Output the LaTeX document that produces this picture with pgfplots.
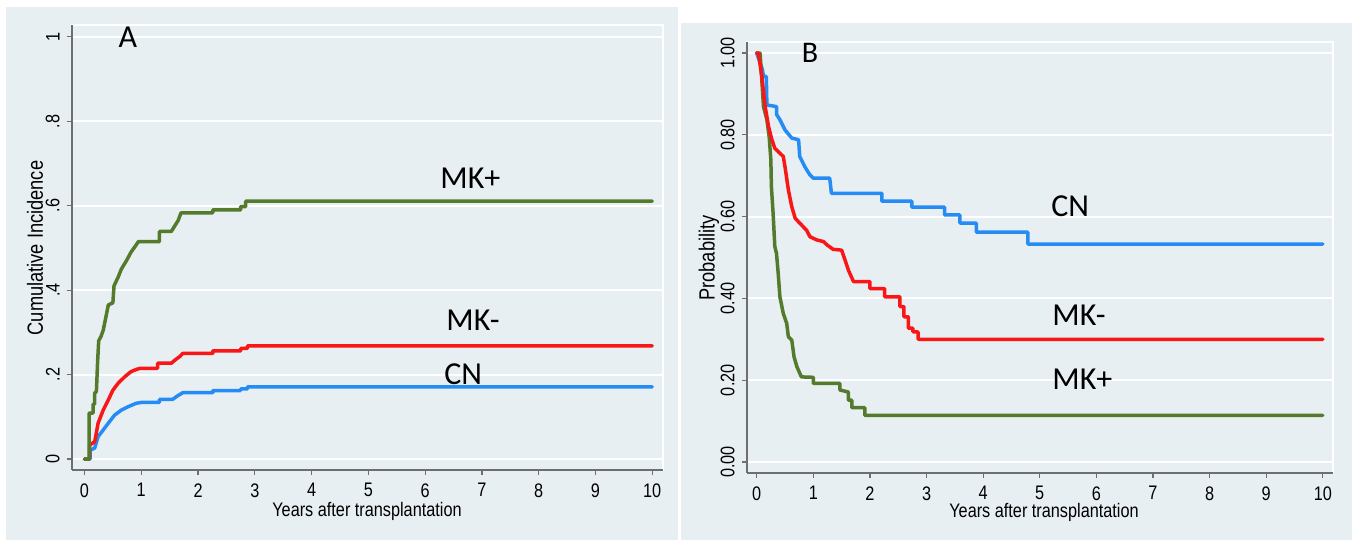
\documentclass[border=0pt]{standalone}
\usepackage{fontspec}
\setmainfont{Liberation Sans}
\newfontfamily\stata[FakeStretch=0.83]{Liberation Sans}
\newfontfamily\calib{Carlito}
\usepackage{pgfplots}
\pgfplotsset{compat=1.18}

\definecolor{bg}{RGB}{232,239,242}
\definecolor{mkplus}{RGB}{84,122,44}
\definecolor{mkminus}{RGB}{248,22,22}
\definecolor{cn}{RGB}{38,140,245}
\definecolor{axgray}{RGB}{110,110,110}

\pgfplotsset{
  km/.style={
    scale only axis,
    enlargelimits=false,
    axis x line*=bottom, axis y line*=left,
    axis line style={axgray, line width=0.6pt},
    axis background/.style={fill=bg, draw=white, line width=1pt},
    tick align=outside, major tick length=2.5pt,
    tick style={axgray, line width=0.6pt},
    xtick={0,...,10},
    ymajorgrids, grid style={white, line width=1pt},
    ticklabel style={font=\stata\fontsize{9.8}{11}\selectfont},
    /pgf/number format/assume math mode=true,
    yticklabel style={rotate=90, anchor=south, inner sep=0pt, yshift=3.5pt},
    xticklabel style={anchor=north, inner sep=0pt, yshift=-4pt},
    every axis plot/.append style={line width=1.75pt, line join=round, line cap=round},
  }
}

\begin{document}
\begin{tikzpicture}[x=0.5pt, y=-0.5pt]
\path[use as bounding box, fill=white] (0,0) rectangle (1352,540);
\fill[bg] (6,7) rectangle (678,540);
\fill[bg] (681,23) rectangle (1352,540);

% panel A: cumulative incidence
\begin{axis}[km, at={(36pt,-235pt)}, anchor=south west,
  width=295.5pt, height=222.5pt,
  xmin=-0.22, xmax=10.19, ymin=-0.026, ymax=1.028,
  ytick={0,0.2,0.4,0.6,0.8,1}, yticklabels={0,.2,.4,.6,.8,1}]
\addplot[cn] coordinates {
(0,0) (0.1,0) (0.1,0.021) (0.18,0.026) (0.24,0.053) (0.33,0.069) (0.42,0.085)
(0.53,0.104) (0.65,0.116) (0.77,0.124) (0.91,0.132) (1.0,0.134) (1.32,0.134)
(1.32,0.141) (1.55,0.141) (1.62,0.148) (1.73,0.157) (2.26,0.157) (2.26,0.162)
(2.75,0.162) (2.75,0.166) (2.87,0.166) (2.87,0.171) (10,0.171)};
\addplot[mkminus] coordinates {
(0,0) (0.09,0) (0.09,0.033) (0.18,0.041) (0.24,0.085) (0.33,0.116) (0.42,0.14)
(0.5,0.163) (0.59,0.179) (0.71,0.195) (0.82,0.207) (0.91,0.212) (0.98,0.215)
(1.29,0.215) (1.29,0.227) (1.53,0.227) (1.6,0.235) (1.68,0.243) (1.73,0.25)
(2.26,0.25) (2.26,0.256) (2.75,0.256) (2.75,0.262) (2.87,0.262) (2.87,0.268) (10,0.268)};
\addplot[mkplus] coordinates {
(0,0) (0.08,0) (0.08,0.109) (0.15,0.109) (0.15,0.13) (0.18,0.13) (0.18,0.156)
(0.21,0.16) (0.23,0.227) (0.25,0.28) (0.29,0.29) (0.33,0.305) (0.39,0.345)
(0.42,0.365) (0.5,0.37) (0.52,0.41) (0.59,0.43) (0.65,0.45) (0.74,0.47) (0.82,0.49)
(0.91,0.507) (0.95,0.515) (1.32,0.515) (1.32,0.539) (1.53,0.539) (1.58,0.55)
(1.65,0.565) (1.70,0.583) (2.26,0.583) (2.26,0.59) (2.75,0.59) (2.75,0.598)
(2.84,0.598) (2.84,0.611) (10,0.611)};
\end{axis}

% panel B: probability
\begin{axis}[km, at={(373.5pt,-236.5pt)}, anchor=south west,
  width=293pt, height=215.5pt,
  xmin=-0.171, xmax=10.18, ymin=-0.027, ymax=1.027,
  ytick={0,0.2,0.4,0.6,0.8,1}, yticklabels={0.00,0.20,0.40,0.60,0.80,1.00}]
\addplot[cn] coordinates {
(0,1) (0.1,0.96) (0.12,0.943) (0.17,0.943) (0.18,0.873) (0.35,0.869) (0.35,0.85)
(0.41,0.837) (0.5,0.812) (0.62,0.792) (0.74,0.788) (0.76,0.747) (0.85,0.722)
(0.94,0.702) (1.0,0.694) (1.29,0.694) (1.32,0.657) (2.21,0.657) (2.21,0.638)
(2.74,0.638) (2.74,0.623) (3.32,0.623) (3.32,0.604) (3.59,0.604) (3.59,0.584)
(3.88,0.584) (3.88,0.562) (4.79,0.562) (4.79,0.533) (10,0.533)};
\addplot[mkplus] coordinates {
(0,1) (0.06,1) (0.09,0.935) (0.12,0.869) (0.18,0.837) (0.22,0.796) (0.25,0.739)
(0.26,0.673) (0.29,0.608) (0.32,0.527) (0.35,0.51) (0.38,0.461) (0.41,0.404)
(0.47,0.363) (0.53,0.339) (0.56,0.306) (0.62,0.298) (0.66,0.257) (0.71,0.233)
(0.79,0.208) (1.0,0.207) (1.0,0.192) (1.47,0.192) (1.47,0.176) (1.62,0.171)
(1.62,0.151) (1.68,0.151) (1.68,0.133) (1.91,0.133) (1.91,0.114) (10,0.114)};
\addplot[mkminus] coordinates {
(0,1) (0.03,1) (0.09,0.943) (0.15,0.869) (0.21,0.82) (0.26,0.792) (0.32,0.767)
(0.41,0.755) (0.47,0.747) (0.5,0.722) (0.56,0.665) (0.62,0.624) (0.68,0.596)
(0.76,0.584) (0.88,0.567) (0.94,0.551) (1.06,0.543) (1.18,0.539) (1.24,0.531)
(1.35,0.52) (1.5,0.518) (1.56,0.494) (1.62,0.469) (1.71,0.441) (2.0,0.441)
(2.0,0.424) (2.26,0.424) (2.26,0.404) (2.53,0.404) (2.53,0.38) (2.6,0.38)
(2.6,0.355) (2.68,0.355) (2.68,0.327) (2.76,0.327) (2.76,0.318) (2.85,0.318)
(2.85,0.3) (10,0.3)};
\end{axis}

% titles and labels
\node[rotate=90, font=\stata\fontsize{11}{12}\selectfont] at (35,248) {Cumulative Incidence};
\node[rotate=90, font=\stata\fontsize{11}{12}\selectfont] at (709,258) {Probability};
\node[font=\stata\fontsize{9.8}{11}\selectfont] at (367,511) {Years after transplantation};
\node[font=\stata\fontsize{9.8}{11}\selectfont] at (1044,512) {Years after transplantation};

\node[font=\calib\fontsize{16}{18}\selectfont] at (128,37) {A};
\node[font=\calib\fontsize{15}{17}\selectfont] at (810,53) {B};

\begin{scope}[every node/.style={anchor=west, inner sep=0pt, font=\calib\fontsize{16}{18}\selectfont}]
\node at (440,178) {MK+};
\node at (446,320) {MK-};
\node at (444,374) {CN};
\node at (1051,206) {CN};
\node at (1052,315) {MK-};
\node at (1052,379) {MK+};
\end{scope}
\end{tikzpicture}
\end{document}
